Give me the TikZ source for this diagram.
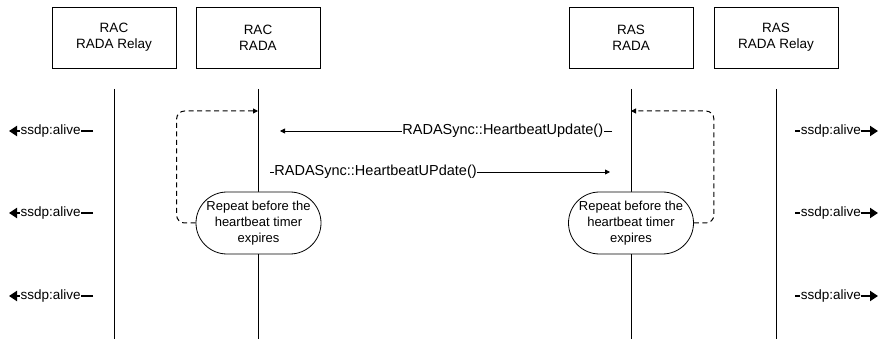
\documentclass[tikz,border=0pt]{standalone}
\usepackage{fontspec}
\setmainfont{Liberation Sans}
\usetikzlibrary{arrows.meta,shapes.misc}
\tikzset{
  x=1pt, y=-1pt,
  actor/.style={draw, line width=0.8pt, minimum width=124pt, minimum height=61pt,
    align=center, font=\fontsize{13.5}{16}\selectfont, inner sep=0pt},
  lifeline/.style={line width=0.8pt},
  repeatbox/.style={draw, fill=white, line width=0.8pt, rounded rectangle,
    minimum width=125pt, minimum height=62pt, align=center, inner sep=0pt,
    font=\fontsize{13}{16}\selectfont},
  msg/.style={line width=0.8pt, -{Triangle[length=5pt,width=5pt]}},
  msglabel/.style={fill=white, inner sep=0.5pt, font=\fontsize{14.5}{16}\selectfont},
  loopback/.style={dashed, dash pattern=on 5pt off 3.5pt, line width=1pt,
    rounded corners=8pt, -{Triangle[length=5pt,width=5pt]}},
  alive/.style={line width=2.6pt, -{Triangle[length=8pt,width=10pt]}},
  alivelabel/.style={fill=white, inner sep=0.5pt, font=\fontsize{13.5}{16}\selectfont},
}
\begin{document}
\begin{tikzpicture}
\useasboundingbox (0,0) rectangle (881,339);

% participants
\node[actor] (racRelay) at (114,37.5) {RAC\\RADA Relay};
\node[actor] (racRada)  at (258,37.5) {RAC\\RADA};
\node[actor] (rasRada)  at (631,37.5) {RAS\\RADA};
\node[actor] (rasRelay) at (776,37.5) {RAS\\RADA Relay};

% lifelines
\coordinate (l1t) at (114,89); \coordinate (l1b) at (114,339);
\coordinate (l2t) at (258,89); \coordinate (l2b) at (258,339);
\coordinate (l3t) at (631,89); \coordinate (l3b) at (631,339);
\coordinate (l4t) at (776,89); \coordinate (l4b) at (776,339);
\draw[lifeline] (l1t) -- (l1b);
\draw[lifeline] (l2t) -- (l2b);
\draw[lifeline] (l3t) -- (l3b);
\draw[lifeline] (l4t) -- (l4b);

% repeat notes on the RADA lifelines
\node[repeatbox] (repL) at (258.5,223) {Repeat before the\\heartbeat timer\\expires};
\node[repeatbox] (repR) at (631,223) {Repeat before the\\heartbeat timer\\expires};

% loop-back arrows
\coordinate (loopL) at (258,111);
\coordinate (loopR) at (631,111);
\draw[loopback] (repL.west) -- ++(-19,0) |- (loopL);
\draw[loopback] (repR.east) -- ++(20,0) |- (loopR);

% heartbeat messages
\coordinate (m1s) at (612,131); \coordinate (m1e) at (280,131);
\coordinate (m2s) at (270,172); \coordinate (m2e) at (610,172);
\draw[msg] (m1s) -- (m1e)
  node[msglabel, pos=0, anchor=east, xshift=-8pt] {RADASync::HeartbeatUpdate()};
\draw[msg] (m2s) -- (m2e)
  node[msglabel, pos=0, anchor=west, xshift=3.5pt] {RADASync::HeartbeatUPdate()};

% ssdp:alive announcements
\foreach \y [count=\i] in {131,213,296} {
  \coordinate (aL\i s) at (93,\y);  \coordinate (aL\i e) at (9,\y);
  \coordinate (aR\i s) at (795,\y); \coordinate (aR\i e) at (878,\y);
  \draw[alive] (aL\i s) -- (aL\i e)
    node[alivelabel, pos=0, anchor=east, xshift=-10.5pt] {ssdp:alive};
  \draw[alive] (aR\i s) -- (aR\i e)
    node[alivelabel, pos=0, anchor=west, xshift=4pt] {ssdp:alive};
}
\end{tikzpicture}
\end{document}
